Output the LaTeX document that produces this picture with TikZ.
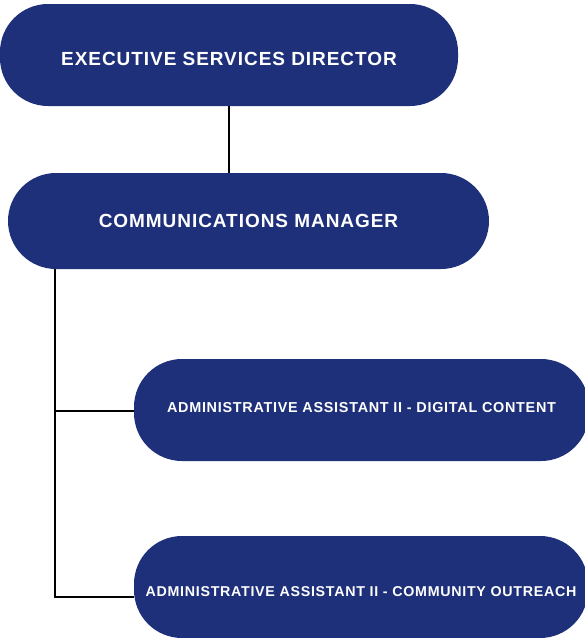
\documentclass[tikz,border=0pt]{standalone}
\usepackage{fontspec}
\setmainfont{Liberation Sans}[LetterSpace=5]
\definecolor{navy}{HTML}{1F307A}
\begin{document}
\begin{tikzpicture}[x=1pt,y=-1pt,
  pill/.style={fill=navy, text=white, rounded corners=48pt, inner sep=0pt, font=\bfseries},
  link/.style={draw=black, line width=1.6pt}]
\useasboundingbox (0,0) rectangle (585,638);
\clip (0,0) rectangle (585,638);
\node[pill, minimum width=458pt, minimum height=102pt, text height=20pt, text depth=0pt, font=\bfseries\fontsize{19}{20}\selectfont] (dir) at (229,55) {EXECUTIVE SERVICES DIRECTOR};
\node[pill, minimum width=481pt, minimum height=96pt, font=\bfseries\fontsize{19}{20}\selectfont] (mgr) at (248.5,221) {COMMUNICATIONS MANAGER};
\node[pill, minimum width=455pt, minimum height=102pt, text height=10.4pt, text depth=5pt, font=\bfseries\fontsize{14.4}{16}\selectfont] (dig) at (361.5,410) {ADMINISTRATIVE ASSISTANT II - DIGITAL CONTENT};
\node[pill, minimum width=454pt, minimum height=102pt, text height=18.5pt, text depth=0pt, font=\bfseries\fontsize{14.25}{16}\selectfont] (com) at (361,587) {ADMINISTRATIVE ASSISTANT II - COMMUNITY OUTREACH};
\coordinate (spine) at (55,268);
\coordinate (j1) at (55,411);
\coordinate (j2) at (55,597);
\draw[link] (dir.south) -- (dir.south |- mgr.north);
\draw[link] (spine |- mgr.south) -- (j2) -- (j2 -| com.west);
\draw[link] (j1) -- (j1 -| dig.west);
\end{tikzpicture}
\end{document}
